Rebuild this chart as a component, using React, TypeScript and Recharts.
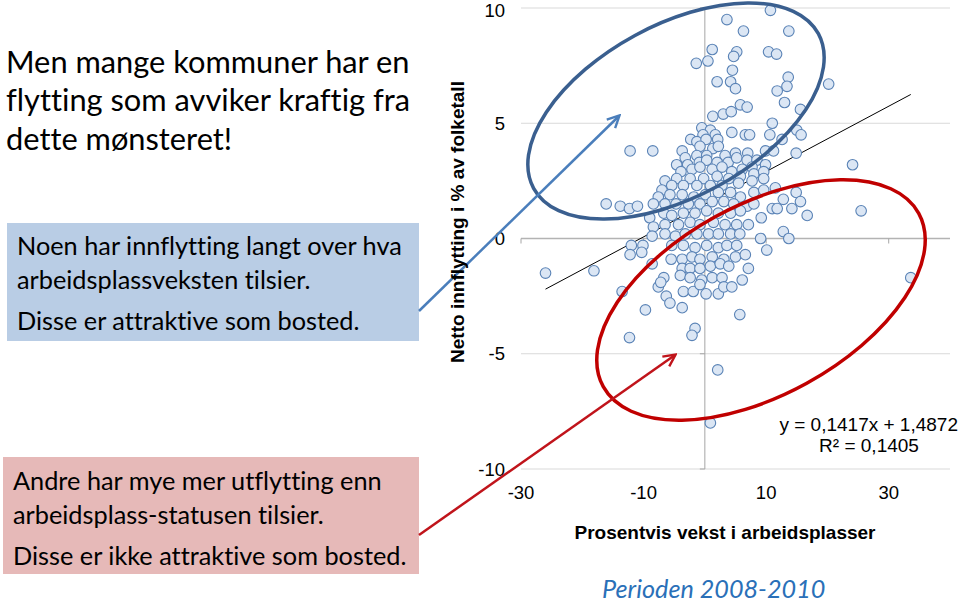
import React from 'react';
import { ScatterChart, Scatter, XAxis, YAxis, CartesianGrid, ReferenceLine, ReferenceDot } from 'recharts';

// [job growth %, net in-migration % of population] per municipality
const municipalities: [number, number][] = [
  [10.7, 9.9], [3.6, 9.5], [13.7, 9.0], [6.3, 9.0], [1.2, 8.2], [5.2, 8.1], [4.7, 7.9], [10.4, 8.1],
  [11.7, 8.0], [-1.4, 7.6], [0.5, 7.7], [4.5, 7.3], [13.6, 7.0], [2.0, 6.8], [4.2, 6.8], [5.0, 6.5],
  [13.4, 6.6], [11.8, 6.4], [20.2, 6.7], [24.1, 3.2], [25.5, 1.2], [-26.0, -1.5], [-18.1, -1.4], [33.6, -1.7],
  [-1.6, -3.9], [-2.1, -4.2], [-12.3, -4.3], [2.1, -5.7], [0.9, -8.0],
  [5.8, 5.8], [6.9, 5.7], [13.0, 5.9], [15.6, 5.6], [1.3, 5.3], [3.0, 5.4], [4.3, 5.5], [11.0, 5.0],
  [15.0, 4.7], [15.7, 4.5], [-0.5, 4.8], [0.9, 4.7], [-0.3, 4.5], [1.7, 4.5], [4.4, 4.6], [6.6, 4.5],
  [7.3, 4.5], [10.6, 4.5], [-2.3, 4.3], [-1.3, 4.2], [0.2, 4.3], [2.1, 4.3], [12.6, 4.3],
  [-12.2, 3.8], [-8.5, 3.8], [-3.7, 3.8], [-0.8, 4.0], [1.3, 3.9], [2.2, 4.0],
  [-3.2, 3.5], [-1.3, 3.6], [0.3, 3.6], [3.3, 3.6], [5.0, 3.7], [7.0, 3.7], [9.9, 3.8], [11.2, 3.8], [14.9, 3.7],
  [-4.6, 3.2], [-2.8, 3.2], [-0.9, 3.3], [0.3, 3.4], [2.0, 3.3], [3.8, 3.3], [5.2, 3.5], [6.9, 3.4], [8.5, 3.4],
  [-3.9, 2.9], [-2.1, 3.0], [-0.8, 3.1], [1.2, 3.0], [2.8, 3.1], [4.4, 2.9], [6.1, 3.0], [7.7, 3.1], [9.9, 3.2],
  [-4.6, 2.6], [-2.4, 2.6], [-0.2, 2.6], [2.0, 2.7], [3.9, 2.6], [5.8, 2.7], [8.0, 2.8], [9.6, 2.9],
  [-6.5, 2.5], [-7.0, 2.1], [-5.4, 2.3], [-3.5, 2.3], [-1.3, 2.3], [0.9, 2.3], [2.8, 2.3], [5.5, 2.4],
  [7.7, 2.5], [9.6, 2.6], [11.5, 2.2], [14.9, 2.0],
  [-7.6, 1.8], [-5.7, 1.9], [-3.7, 1.9], [-1.8, 1.8], [0.1, 1.9], [2.2, 2.0], [4.2, 2.0], [5.8, 1.8],
  [8.0, 2.0], [9.6, 2.1], [12.8, 1.7], [15.6, 1.6],
  [-16.1, 1.5], [-13.8, 1.4], [-12.3, 1.3], [-11.0, 1.4], [-8.4, 1.5], [-6.5, 1.5], [-4.7, 1.5], [-2.7, 1.5],
  [-0.8, 1.5], [1.2, 1.6], [3.1, 1.6], [4.7, 1.5], [6.9, 1.4], [8.0, 1.5], [11.0, 1.3], [11.8, 1.3],
  [14.2, 1.3], [16.7, 1.0],
  [-9.0, 0.9], [-6.7, 1.1], [-5.4, 1.0], [-3.5, 1.1], [-1.6, 1.1], [0.3, 1.2], [2.2, 1.1], [4.2, 1.1],
  [5.8, 1.2], [9.2, 0.9],
  [-8.4, 0.5], [-6.5, 0.6], [-4.3, 0.6], [-2.4, 0.7], [-0.8, 0.6], [1.4, 0.7], [3.3, 0.6], [5.2, 0.6],
  [7.1, 0.6], [12.8, 0.3],
  [-12.0, -0.3], [-10.1, -0.3], [-8.6, 0.1], [-6.5, 0.2], [-4.8, 0.1], [-3.2, 0.2], [-1.3, 0.2], [0.6, 0.2],
  [2.2, 0.2], [4.2, 0.2], [5.7, 0.2], [9.1, 0.0], [13.7, 0.0],
  [-12.2, -0.7], [-10.3, -0.6], [-5.4, -0.3], [-3.5, -0.3], [-1.6, -0.4], [0.3, -0.3], [2.2, -0.4],
  [3.6, -0.3], [5.2, -0.3], [10.1, -0.5],
  [-5.5, -0.9], [-3.7, -0.9], [-2.1, -0.8], [-0.8, -0.9], [1.2, -0.8], [3.1, -0.9], [5.0, -0.8], [6.6, -0.7],
  [-8.6, -1.1], [-3.7, -1.3], [-2.4, -1.3], [-0.8, -1.3], [0.9, -1.2], [2.5, -1.1], [3.9, -1.2], [7.1, -1.3],
  [-6.7, -1.7], [-4.0, -1.6], [-2.4, -1.7], [-0.5, -1.8], [1.2, -1.7], [2.8, -1.7], [6.1, -1.8],
  [-13.5, -2.3], [-7.6, -2.1], [-7.2, -1.9], [-3.5, -2.3], [-1.9, -2.3], [-0.8, -2.0], [0.2, -2.4],
  [2.2, -2.4], [3.1, -2.1], [4.4, -2.1],
  [-6.3, -2.5], [-5.7, -2.8], [-3.7, -3.0], [-9.7, -3.1], [5.7, -3.3],
];

const xTicks = [-30, -10, 10, 30];
const yTicks = [-10, -5, 0, 5, 10];
const slope = 0.1417;
const intercept = 1.4872;
const rSquared = 0.1405;

const xTitle = 'Prosentvis vekst i arbeidsplasser';
const yTitle = 'Netto innflytting i % av folketall';
const heading = ['Men mange kommuner har en', 'flytting som avviker kraftig fra', 'dette mønsteret!'];
const upperNote = ['Noen har innflytting langt over hva', 'arbeidsplassveksten tilsier.', 'Disse er attraktive som bosted.'];
const lowerNote = ['Andre har mye mer utflytting enn', 'arbeidsplass-statusen tilsier.', 'Disse er ikke attraktive som bosted.'];
const period = 'Perioden 2008-2010';

const data = municipalities.map(([x, y]) => ({ x, y }));
const xs = municipalities.map((p) => p[0]);
const xMin = Math.min(...xs);
const xMax = Math.max(...xs);
const trend = [
  { x: xMin, y: slope * xMin + intercept },
  { x: xMax, y: slope * xMax + intercept },
];
const comma = (v: number) => v.toFixed(4).replace('.', ',');

const AXIS_FONT = '"Liberation Sans", Arial, sans-serif';
const SLIDE_FONT = 'Lato, "Open Sans", sans-serif';

const Dot = (props: any) => (
  <circle cx={props.cx} cy={props.cy} r={5.3} fill="#dbe6f4" stroke="#5a83b6" strokeWidth={1.1} />
);

// small tick marks where the axes cross at zero
const DownTick = (p: any) => <line x1={p.cx} y1={p.cy} x2={p.cx} y2={p.cy + 5} stroke="#a6a6a6" strokeWidth={1} />;
const LeftTick = (p: any) => <line x1={p.cx - 5} y1={p.cy} x2={p.cx} y2={p.cy} stroke="#a6a6a6" strokeWidth={1} />;

const TextLine = ({ text, left, cy, size, color = '#000', italic = false }: any) => (
  <div
    style={{
      position: 'absolute',
      left,
      top: cy - size * 0.6,
      height: size * 1.2,
      lineHeight: `${size * 1.2}px`,
      fontSize: size,
      fontFamily: SLIDE_FONT,
      fontStyle: italic ? 'italic' : 'normal',
      fontVariantLigatures: 'none',
      color,
      whiteSpace: 'nowrap',
    }}
  >
    {text}
  </div>
);

const App: React.FC = () => {
  return (
    <div style={{ position: 'absolute', left: 0, top: 0, width: 960, height: 602, background: '#fff', overflow: 'hidden' }}>
      {heading.map((t, i) => (
        <TextLine key={t} text={t} left={6} cy={62 + i * 38.5} size={30.8} />
      ))}

      <div style={{ position: 'absolute', left: 7, top: 223, width: 412, height: 118, background: '#b9cde5' }} />
      {upperNote.map((t, i) => (
        <TextLine key={t} text={t} left={17} cy={[245, 279, 320][i]} size={25.3} />
      ))}

      <div style={{ position: 'absolute', left: 3, top: 457, width: 416, height: 117, background: '#e6b9b8' }} />
      {lowerNote.map((t, i) => (
        <TextLine key={t} text={t} left={13} cy={[480, 514, 555][i]} size={25.3} />
      ))}

      <div style={{ position: 'absolute', left: 0, top: 0 }}>
        <ScatterChart width={960} height={602} margin={{ top: 8, right: 10, bottom: 103, left: 481 }}>
          <CartesianGrid vertical={false} stroke="#d9d9d9" strokeWidth={1} />
          <XAxis
            type="number"
            dataKey="x"
            domain={[-30, 40]}
            ticks={xTicks}
            height={30}
            axisLine={false}
            tickLine={false}
            tickSize={0}
            tickMargin={17}
            tick={{ fill: '#000', fontSize: 18.5, fontFamily: AXIS_FONT }}
          />
          <YAxis
            type="number"
            dataKey="y"
            domain={[-10, 10]}
            ticks={yTicks}
            width={40}
            axisLine={false}
            tickLine={false}
            tickSize={0}
            tickMargin={16}
            tick={{ fill: '#000', fontSize: 18.5, fontFamily: AXIS_FONT }}
          />
          <ReferenceLine x={0} stroke="#a6a6a6" strokeWidth={1} />
          <ReferenceLine y={0} stroke="#b3b3b3" strokeWidth={1.5} />
          {xTicks.map((t) => (
            <ReferenceDot key={`xt${t}`} x={t} y={0} r={0} shape={DownTick} />
          ))}
          {yTicks.map((t) => (
            <ReferenceDot key={`yt${t}`} x={0} y={t} r={0} shape={LeftTick} />
          ))}
          <Scatter data={data} shape={Dot} isAnimationActive={false} />
          <ReferenceLine segment={trend} stroke="#000" strokeWidth={1} />
        </ScatterChart>
      </div>

      <svg width={960} height={602} style={{ position: 'absolute', left: 0, top: 0, pointerEvents: 'none' }}>
        <defs>
          <marker id="headBlue" viewBox="0 0 10 10" refX="8.5" refY="5" markerWidth="6" markerHeight="6" orient="auto">
            <path d="M1,1 L9,5 L1,9" fill="none" stroke="#4a7ebb" strokeWidth={1.6} />
          </marker>
          <marker id="headRed" viewBox="0 0 10 10" refX="8.5" refY="5" markerWidth="6" markerHeight="6" orient="auto">
            <path d="M1,1 L9,5 L1,9" fill="none" stroke="#c0141b" strokeWidth={1.6} />
          </marker>
        </defs>
        <ellipse cx={676} cy={111} rx={162} ry={86} transform="rotate(-28.5 676 111)" fill="none" stroke="#3a5f8f" strokeWidth={3.5} />
        <ellipse cx={761} cy={300} rx={180} ry={95} transform="rotate(-28.8 761 300)" fill="none" stroke="#c00000" strokeWidth={3.5} />
        <line x1={419} y1={311} x2={619} y2={116} stroke="#4a7ebb" strokeWidth={2.5} markerEnd="url(#headBlue)" />
        <line x1={419} y1={535} x2={675} y2={355} stroke="#c0141b" strokeWidth={2.5} markerEnd="url(#headRed)" />

        <text x={457} y={222} transform="rotate(-90 457 222)" textAnchor="middle" dominantBaseline="central"
          fontFamily={AXIS_FONT} fontWeight="bold" fontSize={19}>{yTitle}</text>
        <text x={725} y={532} textAnchor="middle" dominantBaseline="central"
          fontFamily={AXIS_FONT} fontWeight="bold" fontSize={19}>{xTitle}</text>
        <text x={958} y={424} textAnchor="end" dominantBaseline="central" fontFamily={AXIS_FONT} fontSize={19}>
          {`y = ${comma(slope)}x + ${comma(intercept)}`}
        </text>
        <text x={869} y={445} textAnchor="middle" dominantBaseline="central" fontFamily={AXIS_FONT} fontSize={19}>
          {`R² = ${comma(rSquared)}`}
        </text>
      </svg>

      <TextLine text={period} left={602} cy={588} size={25.2} color="#2a70b8" italic />
    </div>
  );
};

export default App;
